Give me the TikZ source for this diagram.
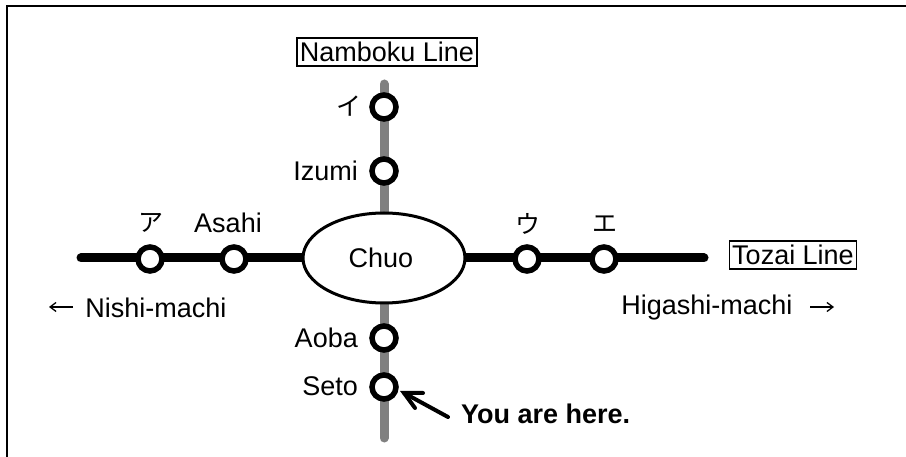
\documentclass[tikz,border=0pt]{standalone}
\usepackage{fontspec}
\setmainfont{Liberation Sans}
\newfontfamily\cjk{Noto Sans CJK JP}
\usetikzlibrary{arrows.meta,shapes.geometric,backgrounds}
\tikzset{
  x=1pt,y=-1pt,
  labeltext/.style={inner sep=0pt,font=\fontsize{27}{27}\selectfont,text=black},
  kana/.style={inner sep=0pt,font=\cjk\fontsize{25}{25}\selectfont,text=black},
  linebox/.style={draw=black,line width=1.3pt,inner xsep=3pt,inner ysep=0pt,minimum height=28pt,font=\fontsize{27}{27}\selectfont},
  stn/.style={circle,draw=black,fill=white,line width=5.5pt,minimum size=24pt,inner sep=0pt},
  hub/.style={draw=black,fill=white,line width=3pt,ellipse,minimum width=162pt,minimum height=90pt,inner sep=0pt},
  tozai/.style={line width=9pt,black,line cap=round},
  namboku/.style={line width=9pt,black!50,line cap=round},
  frameline/.style={line width=2.4pt,black},
  pointer/.style={line width=4pt,black,line cap=round,line join=miter},
  thinarrow/.style={-{Straight Barb[length=6pt,width=9pt]},line width=1.3pt},
}
\begin{document}
\begin{tikzpicture}
\useasboundingbox (0,0) rectangle (906,457);
\coordinate (fbl) at (7,457);
\coordinate (ftl) at (7,6);
\coordinate (ftr) at (906,6);
\draw[frameline] (fbl) -- (ftl) -- (ftr);
\coordinate (wend) at (81,258);
\coordinate (eend) at (704,258);
\coordinate (nend) at (384,84);
\coordinate (send) at (384,438);
\node[hub] (chuo) at (384,258) {};
\node[labeltext] (chuotext) at (381,258) {Chuo};
\node[stn] (a) at (150,259) {};
\node[stn] (asahi) at (234,259) {};
\node[stn] (u) at (527,259) {};
\node[stn] (e) at (604,259) {};
\node[stn] (i) at (384,107) {};
\node[stn] (izumi) at (384,171) {};
\node[stn] (aoba) at (384,338) {};
\node[stn] (seto) at (384,387) {};
\begin{scope}[on background layer]
\draw[tozai] (wend) -- (chuo.center);
\draw[tozai] (chuo.center) -- (eend);
\draw[namboku] (nend) -- (chuo.center);
\draw[namboku] (chuo.center) -- (send);
\end{scope}
\node[kana] (ta) at (151,223) {ア};
\node[labeltext] (tasahi) at (228,223) {Asahi};
\node[kana] (tu) at (528,224) {ウ};
\node[kana] (te) at (605,224) {エ};
\node[kana] (ti) at (349,106) {イ};
\node[labeltext,anchor=east] (tizumi) at (358,171) {Izumi};
\node[labeltext,anchor=east] (taoba) at (358,338) {Aoba};
\node[labeltext,anchor=east] (tseto) at (358,386) {Seto};
\node[linebox] (nam) at (387,52) {Namboku Line};
\node[linebox] (toz) at (793,255) {Tozai Line};
\node[labeltext] (nishi) at (156,308) {Nishi-machi};
\node[labeltext] (higashi) at (707,308) {Higashi-machi};
\coordinate (nl1) at (73,307);
\coordinate (nl2) at (49,307);
\coordinate (hl1) at (810,307);
\coordinate (hl2) at (834,307);
\draw[thinarrow] (nl1) -- (nl2);
\draw[thinarrow] (hl1) -- (hl2);
\node[labeltext,anchor=west,font=\bfseries\fontsize{27}{27}\selectfont] (here) at (461,414) {You are here.};
\coordinate (ptail) at (448,417);
\coordinate (ptip) at (404,393);
\coordinate (pb1) at (423,393);
\coordinate (pb2) at (415,408);
\draw[pointer] (ptail) -- (ptip);
\draw[pointer] (pb1) -- (ptip) -- (pb2);
\end{tikzpicture}
\end{document}
